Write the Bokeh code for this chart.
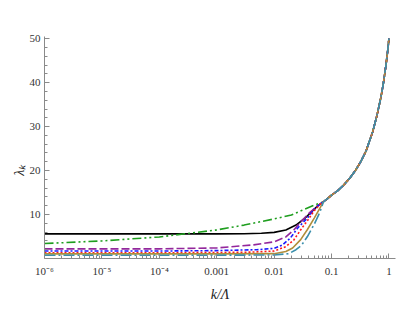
from bokeh.plotting import figure
from bokeh.models import Range1d, FixedTicker, CustomJSTickFormatter
from bokeh.embed import file_html
from bokeh.resources import INLINE

# common high-k part shared by all curves
tail_k = [0.072, 0.085, 0.1, 0.127, 0.16, 0.209, 0.26, 0.325, 0.4, 0.52, 0.62, 0.725, 0.8, 0.887, 0.95, 1.0]
tail_l = [12.9, 13.6, 14.4, 15.4, 16.6, 18.3, 20.0, 22.1, 24.5, 28.8, 32.6, 36.7, 39.9, 44.0, 47.2, 50.0]

black_k = [1e-6, 1e-5, 1e-4, 1e-3, 0.003, 0.006, 0.01, 0.016, 0.024, 0.034, 0.047, 0.06]
black_l = [5.6, 5.6, 5.6, 5.6, 5.62, 5.75, 5.95, 6.5, 7.6, 9.1, 10.9, 12.2]

green_k = [1e-6, 1e-5, 1e-4, 1e-3, 0.003, 0.01, 0.02, 0.03, 0.047]
green_l = [3.4, 4.0, 4.9, 6.5, 7.6, 9.0, 9.9, 10.9, 12.0]

purple_k = [1e-6, 1e-5, 1e-4, 1e-3, 0.0044, 0.01, 0.016, 0.022, 0.03, 0.042, 0.056]
purple_l = [2.2, 2.2, 2.2, 2.4, 3.1, 3.8, 4.9, 6.5, 8.5, 10.5, 11.9]

blue_k = [1e-6, 1e-5, 1e-4, 1e-3, 0.005, 0.01, 0.014, 0.019, 0.026, 0.038, 0.05, 0.062]
blue_l = [1.7, 1.7, 1.7, 1.8, 2.0, 2.3, 3.1, 4.6, 7.0, 9.2, 11.2, 12.3]

red_k = [1e-6, 1e-5, 1e-4, 1e-3, 0.004, 0.01, 0.016, 0.022, 0.03, 0.04, 0.05, 0.062]
red_l = [1.3, 1.3, 1.3, 1.35, 1.45, 1.7, 2.7, 4.2, 6.8, 9.0, 10.9, 12.2]

gold_k = [1e-6, 1e-5, 1e-4, 1e-3, 0.01, 0.016, 0.021, 0.029, 0.038, 0.05, 0.063]
gold_l = [1.05, 1.05, 1.05, 1.05, 1.1, 1.6, 2.4, 4.3, 6.6, 9.2, 11.5]

teal_k = [1e-6, 1e-5, 1e-4, 1e-3, 0.01, 0.018, 0.024, 0.03, 0.038, 0.05, 0.061, 0.068]
teal_l = [0.75, 0.75, 0.75, 0.75, 0.8, 1.1, 2.0, 3.0, 5.0, 7.8, 10.2, 11.8]

x_major = [1e-6, 1e-5, 1e-4, 1e-3, 1e-2, 1e-1, 1.0]
y_major = [10, 20, 30, 40, 50]
y_minor = [2, 4, 6, 8, 12, 14, 16, 18, 22, 24, 26, 28, 32, 34, 36, 38, 42, 44, 46, 48]

series = [
    (black_k, black_l, "#000000", "solid"),
    (green_k, green_l, "#1f9e1f", "9 3 2 3 2 3"),
    (purple_k, purple_l, "#93279c", "8 3"),
    (blue_k, blue_l, "#1a1aff", "4 2 2 2"),
    (red_k, red_l, "#ff1a1a", "2 2"),
    (gold_k, gold_l, "#b08d3a", "solid"),
    (teal_k, teal_l, "#3a8fac", "11 3 2 3"),
]

p = figure(width=400, height=304, x_axis_type="log",
           x_range=Range1d(1e-6, 1.3), y_range=Range1d(0, 50.5),
           output_backend="svg", toolbar_location=None,
           min_border_left=44, min_border_right=5,
           min_border_top=36, min_border_bottom=46)
p.outline_line_color = None
p.grid.visible = False
p.background_fill_color = "white"
p.border_fill_color = "white"

for ks, ls, col, dash in series:
    p.line(ks + tail_k, ls + tail_l, line_color=col, line_width=1.6, line_dash=dash)

x_minor = [m * 10.0 ** e for e in range(-6, 1) for m in range(2, 10)]
p.xaxis.ticker = FixedTicker(ticks=x_major, minor_ticks=x_minor)
p.yaxis.ticker = FixedTicker(ticks=y_major, minor_ticks=y_minor)
p.xaxis.formatter = CustomJSTickFormatter(code="""
const e = Math.round(Math.log10(tick));
const sup = {"-6": "10\u207b\u2076", "-5": "10\u207b\u2075", "-4": "10\u207b\u2074"};
const dec = {"-3": "0.001", "-2": "0.01", "-1": "0.1", "0": "1"};
const key = String(e);
if (key in sup) { return sup[key]; }
if (key in dec) { return dec[key]; }
return String(tick);
""")

for ax in (p.xaxis, p.yaxis):
    ax.axis_line_color = "#8a8a8a"
    ax.major_tick_line_color = "#8a8a8a"
    ax.minor_tick_line_color = "#8a8a8a"
    ax.major_tick_in = 5
    ax.major_tick_out = 0
    ax.minor_tick_in = 3
    ax.minor_tick_out = 0
    ax.major_label_text_font = "Liberation Serif"
    ax.major_label_text_font_size = "11px"
    ax.major_label_text_color = "#333333"
    ax.axis_label_text_font = "Liberation Serif"
    ax.axis_label_text_font_size = "14px"
    ax.axis_label_text_font_style = "italic"
    ax.axis_label_text_color = "#222222"

p.xaxis.major_label_standoff = 6
p.yaxis.major_label_standoff = 4
p.xaxis.axis_label = "k/\u039b"
p.yaxis.axis_label = "\u03bb\u2096" + "\u00a0" * 13
p.xaxis.axis_label_standoff = 7
p.yaxis.axis_label_standoff = 0

open("out.html", "w").write(file_html(p, INLINE))
